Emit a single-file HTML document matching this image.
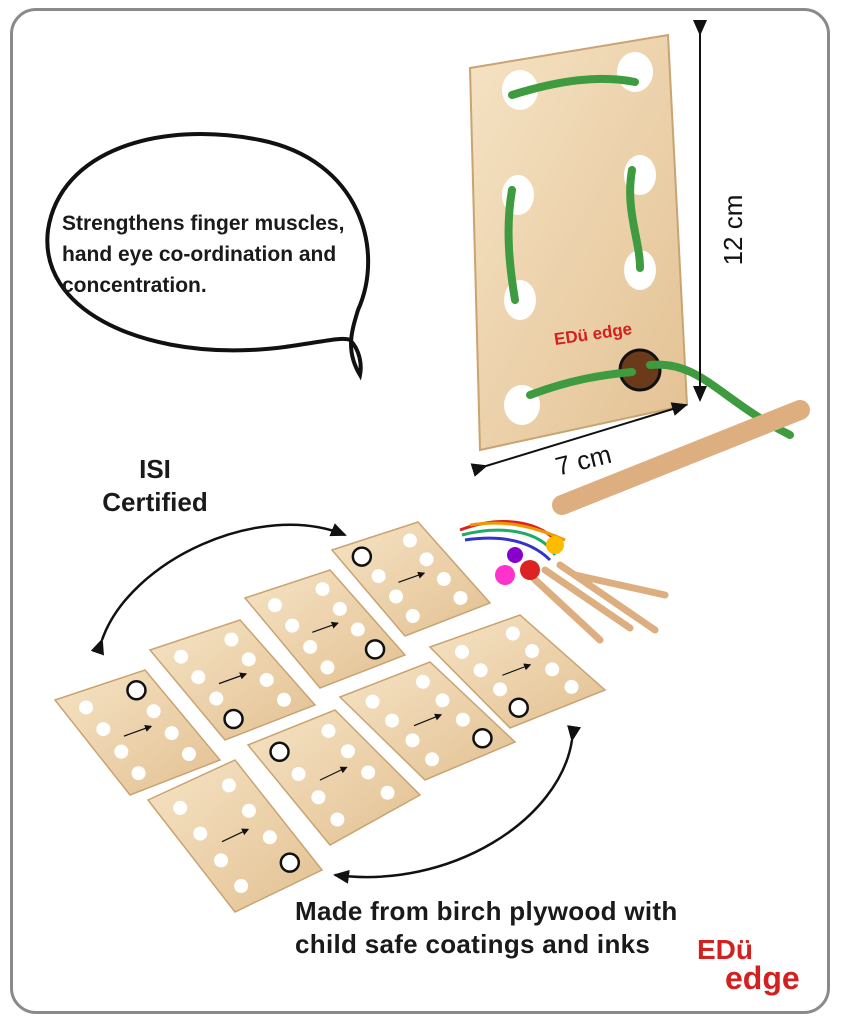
<!DOCTYPE html>
<html><head><meta charset="utf-8"><style>
html,body{margin:0;padding:0;background:#fff;}
body{width:845px;height:1024px;position:relative;overflow:hidden;font-family:"Liberation Sans",sans-serif;}
.frame{position:absolute;left:10px;top:8px;width:820px;height:1006px;border:3px solid #8a8a8a;border-radius:26px;box-sizing:border-box;}
.t{position:absolute;font-weight:bold;color:#1a1a1a;white-space:nowrap;}
</style></head><body>
<div class="frame"></div>
<svg width="845" height="1024" style="position:absolute;left:0;top:0" id="s">
<defs>
<linearGradient id="w" x1="0" y1="0" x2="1" y2="1"><stop offset="0" stop-color="#f5e3c4"/><stop offset="1" stop-color="#e3c193"/></linearGradient>
<marker id="ah" markerWidth="16" markerHeight="14" refX="14" refY="7" orient="auto" markerUnits="userSpaceOnUse"><path d="M0,0 L16,7 L0,14 z" fill="#111"/></marker>
<marker id="as" markerWidth="6" markerHeight="6" refX="5" refY="3" orient="auto"><path d="M0,0 L6,3 L0,6 z" fill="#111"/></marker>
</defs>
<path d="M360,375 C345,350 352,330 358,310 C385,250 360,160 260,140 C160,120 60,150 48,230 C38,310 140,355 250,350 C300,348 340,335 350,340 C360,350 362,365 360,375 Z" fill="#fff" stroke="#111" stroke-width="4"/>
<polygon points="470,68 668,35 687,405 480,450" fill="url(#w)" stroke="#c9a372" stroke-width="2"/>
<g fill="#fff">
<ellipse cx="520" cy="90" rx="18" ry="20"/><ellipse cx="635" cy="72" rx="18" ry="20"/>
<ellipse cx="518" cy="195" rx="16" ry="20"/><ellipse cx="640" cy="175" rx="16" ry="20"/>
<ellipse cx="520" cy="300" rx="16" ry="20"/><ellipse cx="640" cy="270" rx="16" ry="20"/>
<ellipse cx="522" cy="405" rx="18" ry="20"/>
</g>
<circle cx="640" cy="370" r="20" fill="#6b3a1a" stroke="#111" stroke-width="3"/>
<g fill="none" stroke="#3f9b3f" stroke-width="8" stroke-linecap="round">
<path d="M512,95 C560,80 600,75 635,82"/>
<path d="M512,190 C505,230 510,270 515,300"/>
<path d="M632,170 C625,210 640,240 640,268"/>
<path d="M530,395 C570,380 600,375 632,372"/>
<path d="M650,365 C700,360 720,400 790,435"/>
</g>
<text x="555" y="345" font-family="Liberation Sans" font-weight="bold" font-size="17" fill="#d32020" transform="rotate(-8 555 345)">EDü edge</text>
<line x1="700" y1="34" x2="700" y2="400" stroke="#111" stroke-width="2" marker-start="url(#ah)" marker-end="url(#ah)"/>
<text x="742" y="230" font-size="26" font-family="Liberation Sans" fill="#111" transform="rotate(-90 742 230)" text-anchor="middle">12 cm</text>
<line x1="486" y1="466" x2="686" y2="405" stroke="#111" stroke-width="2" marker-start="url(#ah)" marker-end="url(#ah)"/>
<text x="555" y="470" font-size="26" font-family="Liberation Sans" fill="#111" transform="rotate(-14 580 460)">7 cm</text>
<line x1="562" y1="505" x2="800" y2="410" stroke="#dcae80" stroke-width="20" stroke-linecap="round"/>
<path d="M102,640 C130,560 260,500 345,535" fill="none" stroke="#111" stroke-width="2.5" marker-start="url(#ah)" marker-end="url(#ah)"/>
<path d="M572,740 C560,820 450,890 335,875" fill="none" stroke="#111" stroke-width="2.5" marker-start="url(#ah)" marker-end="url(#ah)"/>
<g stroke-width="3" fill="none"><path d="M460,530 C500,515 540,520 560,545" stroke="#d22"/><path d="M462,535 C500,525 540,530 555,555" stroke="#2a6"/><path d="M465,540 C500,535 530,540 550,560" stroke="#33c"/><path d="M470,525 C505,520 530,525 565,540" stroke="#e90"/></g>
<g stroke="#dcae80" stroke-width="7" stroke-linecap="round"><line x1="530" y1="575" x2="600" y2="640"/><line x1="545" y1="570" x2="630" y2="628"/><line x1="560" y1="565" x2="655" y2="630"/><line x1="575" y1="575" x2="665" y2="595"/></g>
<circle cx="505" cy="575" r="10" fill="#f3c"/><circle cx="530" cy="570" r="10" fill="#d22"/><circle cx="555" cy="545" r="9" fill="#fb0"/><circle cx="515" cy="555" r="8" fill="#80c"/>
<g id="tiles"></g>
</svg>
<div class="t" style="left:62px;top:208px;font-size:21px;line-height:31px">Strengthens finger muscles,<br>hand eye co-ordination and<br>concentration.</div>
<div class="t" style="left:85px;top:453px;width:140px;text-align:center;font-size:26px;line-height:33px">ISI<br>Certified</div>
<div class="t" style="left:295px;top:895px;font-size:26px;line-height:33px;letter-spacing:0.3px">Made from birch plywood with<br>child safe coatings and inks</div>
<div class="t" style="left:697px;top:936px;font-size:28px;color:#d32020;line-height:28px">EDü<br><span style="margin-left:28px;font-size:32px">edge</span></div>
<script>
var tiles=[
[[332,550],[418,522],[490,603],[405,636]],
[[245,598],[330,570],[405,655],[320,688]],
[[150,650],[240,620],[315,705],[225,740]],
[[55,700],[145,670],[220,760],[130,795]],
[[430,647],[520,615],[605,690],[510,728]],
[[340,697],[430,662],[515,742],[425,780]],
[[248,745],[335,710],[420,795],[330,845]],
[[148,800],[235,760],[322,870],[235,912]]];
var g=document.getElementById('tiles'),h='';
function P(t,u,v){var a=t[0],b=t[1],c=t[2],d=t[3];
return [(1-u)*(1-v)*a[0]+u*(1-v)*b[0]+u*v*c[0]+(1-u)*v*d[0],(1-u)*(1-v)*a[1]+u*(1-v)*b[1]+u*v*c[1]+(1-u)*v*d[1]];}
tiles.forEach(function(t,i){
h+='<polygon points="'+t.map(function(p){return p.join(',')}).join(' ')+'" fill="url(#w)" stroke="#c9a372" stroke-width="1.5"/>';
[0.22,0.78].forEach(function(u){[0.15,0.38,0.62,0.85].forEach(function(v){var p=P(t,u,v);h+='<circle cx="'+p[0]+'" cy="'+p[1]+'" r="7" fill="#fff"/>';});});
var p=P(t,i%2?0.78:0.22,i%3?0.85:0.15);h+='<circle cx="'+p[0]+'" cy="'+p[1]+'" r="9" fill="#fff" stroke="#111" stroke-width="2.5"/>';
var a=P(t,0.35,0.5),b=P(t,0.65,0.5);h+='<line x1="'+a[0]+'" y1="'+a[1]+'" x2="'+b[0]+'" y2="'+b[1]+'" stroke="#111" stroke-width="1.2" marker-end="url(#as)"/>';
});
g.innerHTML=h;
</script>
</body></html>
